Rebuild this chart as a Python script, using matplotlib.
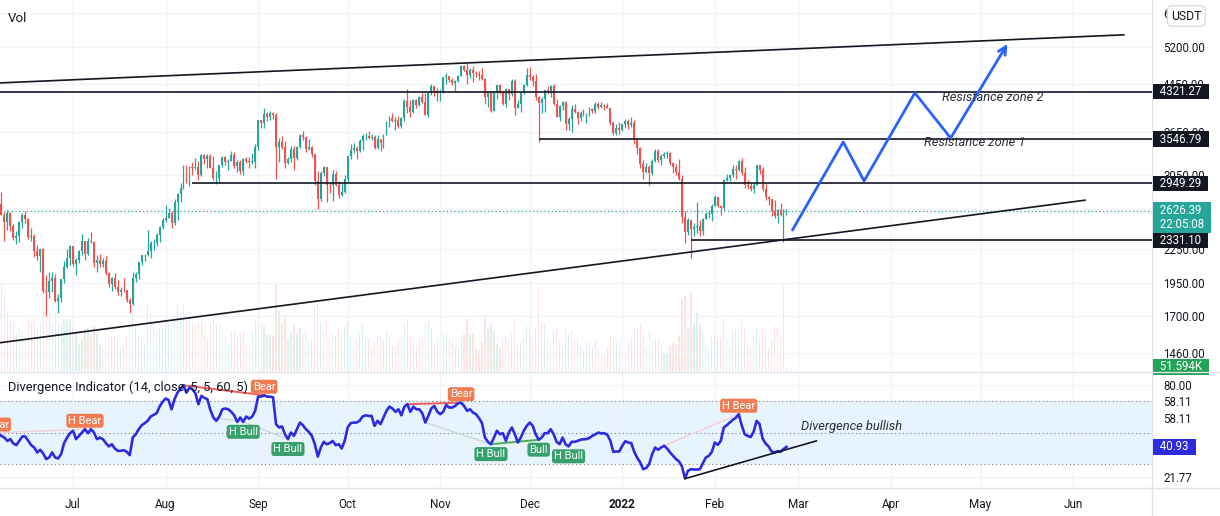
import numpy as np
import pandas as pd
import matplotlib
matplotlib.use('Agg')
import matplotlib.pyplot as plt
import matplotlib.dates as mdates
import matplotlib.transforms as mtransforms
from matplotlib.ticker import FixedLocator, NullLocator, FuncFormatter
from matplotlib.lines import Line2D

plt.rcParams['font.family'] = ['Roboto', 'DejaVu Sans']

# ---------------- data ----------------
start_date = '2021-06-04'
view_start = '2021-06-07'
first_open = 2855

close = [
    2690, 2630, 2712, 2591, 2517, 2609, 2472, 2354, 2372, 2508, 2587, 2549, 2365, 2373, 2232, 2178, 2244, 1889, 1875,
    1968, 1990, 1813, 1829, 1982, 2084, 2160, 2275,
    2113, 2150, 2226, 2322, 2198, 2324, 2316, 2117, 2146, 2111, 2140, 2036, 1941, 1995, 1918, 1880, 1898, 1893, 1820,
    1787, 1994, 2026, 2124, 2189, 2191, 2231, 2299, 2299, 2382, 2461, 2536,
    2556, 2608, 2506, 2725, 2827, 2890, 3157, 3012, 3163, 3141, 3164, 3049, 3322, 3266, 3310, 3149, 3012, 3018, 3182,
    3287, 3225, 3243, 3321, 3173, 3225, 3102, 3270, 3244, 3226, 3226, 3433,
    3834, 3790, 3940, 3887, 3952, 3927, 3429, 3497, 3427, 3211, 3266, 3408, 3285, 3429, 3611, 3570, 3397, 3433, 3328,
    2978, 2760, 3077, 3154, 2930, 2925, 3064, 2928, 2807, 2851, 3000,
    3307, 3390, 3418, 3380, 3517, 3585, 3591, 3560, 3577, 3418, 3545, 3493, 3604, 3788, 3865, 3829, 3845, 3748, 3877,
    4155, 4057, 3972, 4170, 4085, 4218, 4132, 3924, 4287, 4414, 4325, 4288,
    4321, 4588, 4601, 4535, 4474, 4518, 4612, 4807, 4731, 4634, 4722, 4667, 4646, 4625, 4557, 4217, 4289, 3991, 4303,
    4436, 4316, 4103, 4362, 4269, 4521, 4042, 4097, 4294, 4444, 4630,
    4586, 4511, 4220, 4119, 4198, 4346, 4310, 4431, 4111, 3895, 4074, 4134, 3782, 3862, 4020, 3961, 3876, 3958, 3923,
    3935, 4016, 3982, 4109, 4047, 4094, 4068, 4036, 3793, 3630, 3713, 3677,
    3769, 3829, 3762, 3795, 3539, 3420, 3196, 3091, 3157, 3083, 3239, 3372, 3249, 3310, 3330, 3350, 3212, 3164, 3096,
    3004, 2562, 2406, 2537, 2441, 2461, 2468, 2424, 2548, 2599, 2603, 2688,
    2792, 2680, 2660, 2990, 3016, 3054, 3137, 3125, 3242, 3075, 2928, 2918, 2880, 2929, 3180, 3124, 2885, 2785, 2764,
    2628, 2572, 2640, 2589, 2598, 2626.39,
]
high = [
    2860, 2815, 2745, 2845, 2621, 2640, 2615, 2495, 2420, 2520, 2610, 2630, 2560, 2455, 2395, 2280, 2250, 2255, 2015,
    2045, 2045, 2025, 1860, 1985, 2140, 2250, 2285,
    2275, 2160, 2240, 2390, 2325, 2350, 2410, 2325, 2190, 2200, 2165, 2180, 2045, 2000, 2030, 1975, 1915, 1990, 1897,
    1830, 2040, 2045, 2130, 2195, 2200, 2430, 2320, 2345, 2398, 2470, 2550,
    2700, 2665, 2630, 2760, 2840, 2950, 3180, 3185, 3175, 3230, 3275, 3235, 3330, 3330, 3330, 3330, 3300, 3100, 3190,
    3300, 3305, 3270, 3375, 3360, 3250, 3250, 3285, 3290, 3290, 3350, 3470,
    3840, 3840, 4030, 3970, 3980, 3970, 3950, 3560, 3590, 3520, 3290, 3440, 3440, 3440, 3620, 3675, 3590, 3545, 3450,
    3330, 3100, 3100, 3170, 3160, 2970, 3120, 3110, 2980, 2960, 3060,
    3320, 3470, 3490, 3440, 3545, 3620, 3640, 3670, 3625, 3610, 3600, 3550, 3615, 3825, 3900, 3960, 3880, 3900, 3890,
    4185, 4375, 4175, 4195, 4190, 4240, 4300, 4295, 4300, 4460, 4420, 4380,
    4375, 4600, 4665, 4600, 4570, 4535, 4630, 4820, 4835, 4868, 4775, 4810, 4705, 4700, 4770, 4570, 4320, 4340, 4330,
    4440, 4450, 4330, 4390, 4375, 4550, 4550, 4175, 4305, 4460, 4775,
    4780, 4630, 4645, 4235, 4230, 4355, 4420, 4440, 4460, 4185, 4080, 4150, 4150, 3880, 4090, 4100, 3980, 3990, 4020,
    3960, 4050, 4040, 4140, 4140, 4130, 4110, 4125, 4040, 3820, 3770, 3815,
    3770, 3850, 3850, 3880, 3845, 3550, 3425, 3245, 3210, 3180, 3260, 3410, 3410, 3335, 3365, 3375, 3360, 3215, 3200,
    3260, 3050, 2625, 2550, 2530, 2505, 2725, 2530, 2555, 2620, 2645, 2705,
    2815, 2790, 2700, 3000, 3070, 3065, 3190, 3180, 3255, 3285, 3160, 2990, 2950, 2965, 3190, 3190, 3160, 2945, 2800,
    2770, 2750, 2650, 2715, 2650, 2655,
]
low = [
    2590, 2560, 2615, 2583, 2321, 2432, 2420, 2336, 2290, 2310, 2450, 2505, 2340, 2320, 2175, 2145, 2045, 1870, 1700,
    1835, 1880, 1800, 1720, 1805, 1950, 2075, 2100,
    2090, 2020, 2115, 2190, 2150, 2190, 2300, 2080, 2045, 2080, 2080, 2020, 1920, 1885, 1900, 1855, 1850, 1875, 1800,
    1718, 1780, 1955, 1985, 2100, 2140, 2185, 2160, 2235, 2275, 2315, 2440,
    2510, 2550, 2450, 2480, 2530, 2725, 2880, 2950, 2920, 3050, 3135, 2990, 3040, 3200, 3150, 3140, 2990, 2940, 2960,
    3160, 3190, 3120, 3240, 3150, 3090, 3065, 3060, 3205, 3150, 3200, 3150,
    3387, 3720, 3720, 3830, 3840, 3850, 3000, 3230, 3410, 3150, 3200, 3220, 3120, 3250, 3415, 3530, 3355, 3390, 3290,
    2930, 2650, 2740, 3040, 2730, 2830, 2740, 2920, 2780, 2800, 2830,
    2970, 3260, 3345, 3270, 3355, 3390, 3530, 3545, 3530, 3400, 3400, 3375, 3420, 3600, 3725, 3800, 3680, 3720, 3720,
    3820, 3960, 3890, 3950, 4030, 4070, 4120, 3915, 3880, 4255, 4250, 4155,
    4150, 4300, 4460, 4490, 4440, 4330, 4500, 4605, 4710, 4460, 4575, 4505, 4600, 4540, 4525, 4105, 4060, 3965, 3985,
    4190, 4270, 4090, 4060, 4180, 4245, 3920, 4040, 3975, 4280, 4420,
    4530, 4425, 4180, 3500, 3950, 3975, 4280, 4220, 4080, 3880, 3830, 3995, 3680, 3685, 3645, 3950, 3780, 3820, 3900,
    3790, 3910, 3960, 3950, 4025, 4030, 4000, 4030, 3760, 3600, 3600, 3620,
    3670, 3720, 3700, 3730, 3475, 3340, 3150, 3005, 3075, 2930, 3060, 3225, 3225, 3185, 3280, 3280, 3180, 3080, 3050,
    2990, 2500, 2300, 2385, 2165, 2370, 2400, 2370, 2385, 2540, 2555, 2525,
    2680, 2670, 2590, 2645, 2980, 2980, 3030, 3000, 3110, 3050, 2900, 2880, 2855, 2830, 2925, 3070, 2855, 2755, 2700,
    2580, 2560, 2500, 2580, 2315, 2590,
]
volume_k = [
    800, 700, 500, 1050, 880, 700, 600, 560, 450, 500, 480, 430, 620, 560, 640, 520, 580, 900, 960, 720, 560, 700, 560,
    580, 620, 600, 620,
    530, 450, 320, 380, 500, 520, 430, 540, 450, 310, 260, 420, 450, 420, 420, 380, 280, 300, 420, 560, 700, 540, 430,
    380, 330, 820, 700, 560, 480, 520, 500,
    560, 560, 540, 690, 820, 720, 800, 640, 720, 560, 540, 560, 620, 450, 400, 560, 620, 580, 560, 520, 420, 340, 480,
    480, 400, 460, 480, 320, 340, 480, 620,
    820, 560, 540, 430, 430, 420, 1050, 720, 560, 640, 400, 460, 560, 440, 520, 440, 480, 360, 380, 760, 820, 580, 480,
    600, 400, 440, 420, 500, 460, 540,
    600, 420, 300, 380, 460, 560, 380, 380, 280, 360, 420, 430, 380, 480, 420, 300, 300, 380, 420, 560, 620, 440, 320,
    300, 380, 400, 560, 600, 500, 340, 380,
    400, 460, 450, 380, 360, 300, 260, 420, 450, 620, 440, 440, 260, 240, 350, 640, 500, 560, 480, 330, 280, 400, 420,
    360, 440, 640, 300, 360, 400, 540,
    500, 400, 500, 1000, 560, 580, 400, 340, 480, 500, 360, 260, 520, 440, 480, 380, 400, 300, 260, 340, 360, 280, 360,
    260, 180, 200, 280, 420, 380, 360, 340,
    220, 220, 340, 380, 520, 500, 560, 420, 280, 460, 360, 380, 380, 300, 220, 200, 300, 340, 320, 420, 860, 900, 520,
    940, 560, 700, 560, 480, 300, 260, 420,
    420, 380, 400, 620, 380, 280, 480, 500, 440, 620, 520, 300, 280, 420, 520, 400, 520, 400, 260, 360, 540, 520, 440,
    1020, 51.594,
]
rsi = [
    49.7, 47.5, 49.0,
    47.9, 46.8, 44.7, 45.8, 43.1, 42.0, 44.7, 47.5, 47.5, 44.7, 42.0, 40.5, 37.4, 39.1, 36.7, 33.2, 34.2, 37.4, 34.2,
    33.6, 36.3, 43.3, 46.8, 49.6,
    51.1, 45.8, 47.9, 50.0, 52.1, 49.6, 52.1, 50.0, 45.8, 46.8, 45.8, 43.3, 41.2, 42.6, 39.9, 38.4, 38.4, 38.8, 37.8,
    35.7, 46.8, 48.9, 52.1, 54.6, 55.9, 57.4, 60.1, 61.2, 62.2, 66.4, 69.4,
    71.5, 70.6, 64.7, 71.1, 75.3, 77.4, 79.9, 75.3, 78.4, 77.4, 74.8, 67.9, 73.2, 71.9, 71.1, 64.3, 59.5, 57.4, 60.1,
    64.7, 65.2, 64.7, 63.1, 60.9, 56.7, 59.5, 56.7, 60.1, 58.8, 60.1, 63.7,
    72.7, 72.7, 73.6, 72.7, 72.7, 72.3, 55.3, 53.2, 53.9, 48.9, 45.8, 50.0, 47.9, 52.1, 56.3, 54.6, 52.1, 50.4, 47.9,
    42.6, 34.8, 40.5, 44.1, 42.6, 43.3, 44.7, 42.0, 42.6, 39.9, 44.7,
    53.2, 55.9, 56.3, 56.3, 57.4, 60.1, 60.9, 60.5, 60.5, 54.2, 57.4, 55.3, 59.5, 63.7, 66.4, 65.2, 63.1, 64.7, 60.9,
    66.4, 67.9, 63.1, 66.4, 64.7, 64.7, 62.2, 56.3, 60.5, 65.2, 66.8, 63.3,
    61.6, 63.1, 67.5, 65.8, 65.8, 66.8, 68.5, 68.9, 66.8, 63.7, 64.7, 62.6, 61.6, 59.1, 55.9, 46.8, 44.1, 42.6, 46.8,
    51.1, 48.9, 49.6, 44.7, 50.0, 53.2, 48.9, 43.7, 46.8, 51.1, 54.2,
    56.3, 54.2, 48.9, 45.4, 46.8, 49.6, 49.6, 52.1, 48.9, 44.1, 42.6, 46.8, 42.6, 41.2, 44.1, 44.1, 44.7, 45.4, 45.8,
    45.8, 46.6, 47.9, 48.9, 50.0, 49.4, 49.6, 48.5, 44.7, 37.8, 38.0, 38.0,
    41.6, 44.5, 43.7, 43.3, 37.8, 34.0, 31.1, 26.8, 27.5, 30.0, 36.3, 40.5, 39.1, 40.5, 41.6, 39.9, 37.4, 35.3, 33.2,
    31.7, 28.5, 21.0, 25.8, 26.8, 26.6, 26.6, 26.8, 30.6, 34.2, 35.3, 37.8,
    43.7, 42.2, 44.7, 53.2, 54.6, 56.3, 58.0, 59.3, 61.6, 54.6, 48.9, 47.9, 47.1, 50.5, 57.4, 55.3, 46.2, 43.1, 41.2,
    38.0, 37.4, 38.2, 37.8, 39.5, 40.93,
]

price_ticks = [6000, 5200, 4450, 3650, 3050, 2650, 2250, 1950, 1700, 1460]
rsi_ticks = [80.0, 21.77]
rsi_extra_labels = [(68.7, '58.11'), (58.11, '58.11')]
rsi_levels = [70, 50, 30]
month_ticks = ['2021-07-01', '2021-08-01', '2021-09-01', '2021-10-01', '2021-11-01', '2021-12-01',
               '2022-01-01', '2022-02-01', '2022-03-01', '2022-04-01', '2022-05-01', '2022-06-01']
month_labels = ['Jul', 'Aug', 'Sep', 'Oct', 'Nov', 'Dec', '2022', 'Feb', 'Mar', 'Apr', 'May', 'Jun']

level_prices = [4321.27, 3546.79, 2949.29, 2331.10]
level_starts = [None, '2021-12-04', '2021-08-10', '2022-01-24']
upper_trend_dates = ['2021-06-06', '2022-06-18']
upper_trend_prices = [4478, 5470]
lower_trend_dates = ['2021-06-06', '2022-06-05']
lower_trend_prices = [1520, 2751]
proj_dates = ['2022-02-27', '2022-03-16', '2022-03-23', '2022-04-09', '2022-04-21', '2022-05-10']
proj_prices = [2430, 3504, 2980, 4296, 3562, 5265]
rsi_trend_dates = ['2022-01-22', '2022-03-07']
rsi_trend_values = [20.8, 44.7]

div_lines = [('2021-06-04', '2021-07-05', 'hbear'), ('2021-08-07', '2021-09-03', 'bear'),
             ('2021-08-17', '2021-08-27', 'hbull'), ('2021-08-27', '2021-09-11', 'hbull'),
             ('2021-10-21', '2021-11-08', 'bear'), ('2021-10-27', '2021-11-18', 'hbull'),
             ('2021-11-18', '2021-12-04', 'bull'), ('2022-01-15', '2022-02-09', 'hbear')]
div_labels = [('2021-06-04', 'H Bear', 'bear'), ('2021-07-05', 'H Bear', 'bear'), ('2021-09-03', 'Bear', 'bear'),
              ('2021-08-27', 'H Bull', 'bull'), ('2021-09-11', 'H Bull', 'bull'), ('2021-11-08', 'Bear', 'bear'),
              ('2021-11-18', 'H Bull', 'bull'), ('2021-12-04', 'Bull', 'bull'), ('2021-12-14', 'H Bull', 'bull'),
              ('2022-02-09', 'H Bear', 'bear')]

last_price = 2626.39
countdown = '22:05:08'
last_volume_text = '51.594K'

# ---------------- styling ----------------
UP, DOWN = '#26a69a', '#ef5350'
INK = '#131722'
GRID = '#f0f3fa'
BORDER = '#e0e3eb'
RSI_C = '#2c2cdc'
BEAR_C, BULL_C = '#f07c52', '#38a06c'
div_style = {'bear': ('#f25a5a', 1.4), 'bull': ('#4caf50', 1.4),
             'hbear': ('#f2cfd6', 1.0), 'hbull': ('#cdd9d4', 1.0)}

W, H = 1220, 516
fig = plt.figure(figsize=(W / 100, H / 100), dpi=100)
fig.patch.set_facecolor('white')


def rect(x0, y0, x1, y1):
    return [x0 / W, 1 - y1 / H, (x1 - x0) / W, (y1 - y0) / H]


PANE_R, MAIN_B, RSI_T, RSI_B = 1152, 371, 372, 488
ax_vol = fig.add_axes(rect(0, 0, PANE_R, MAIN_B), label='vol')
ax = fig.add_axes(rect(0, 0, PANE_R, MAIN_B), label='price')
ax_rsi = fig.add_axes(rect(0, RSI_T, PANE_R, RSI_B), label='rsi')
ax.patch.set_alpha(0)

d2n = lambda s: mdates.date2num(pd.Timestamp(s))
dates = pd.date_range(start_date, periods=len(close), freq='D')
x = mdates.date2num(dates)
o = np.array([first_open] + close[:-1], dtype=float)
c = np.array(close, dtype=float)
hi = np.maximum(np.array(high, dtype=float), np.maximum(o, c))
lo = np.minimum(np.array(low, dtype=float), np.minimum(o, c))
up = c >= o
col = np.where(up, UP, DOWN)
x_ref = d2n(view_start)
xlim = (x_ref - 0.47, x_ref + 385.45)
month_x = [d2n(m) for m in month_ticks]

# volume
ax_vol.bar(x, volume_k, width=0.4, color=col, alpha=0.17, linewidth=0)
ax_vol.set_xlim(xlim)
ax_vol.set_ylim(0, 4452)
ax_vol.axis('off')

# price pane
ax.set_yscale('log')
ax.set_xlim(xlim)
ax.set_ylim(1352.7, 6322)
ax.set_xticks(month_x)
ax.yaxis.set_major_locator(FixedLocator(price_ticks))
ax.yaxis.set_minor_locator(NullLocator())
ax.yaxis.set_major_formatter(FuncFormatter(lambda v, p: f'{v:.2f}'))
ax.yaxis.tick_right()
ax.tick_params(axis='y', length=0, pad=8, labelsize=8.3, labelcolor=INK)
ax.tick_params(axis='x', length=0, labelbottom=False)
ax.grid(True, color=GRID, linewidth=1)
ax.set_axisbelow(True)
for s in ax.spines.values():
    s.set_visible(False)
ax.spines['right'].set_visible(True)
ax.spines['right'].set_color(BORDER)

ax.vlines(x, lo, hi, colors=col, linewidth=0.9, zorder=3)
body_lo = np.minimum(o, c)
body_hi = np.maximum(np.maximum(o, c), body_lo * 1.002)
ax.bar(x, body_hi - body_lo, bottom=body_lo, width=0.64, color=col, linewidth=0, zorder=4)

ax.axhline(last_price, color=UP, lw=0.9, ls=(0, (1, 2)), zorder=2)
for lvl, st in zip(level_prices, level_starts):
    xs = xlim[0] if st is None else d2n(st)
    ax.hlines(lvl, xs, xlim[1], color=INK, lw=1.2, zorder=5)
ax.plot([d2n(d) for d in upper_trend_dates], upper_trend_prices, color=INK, lw=1.2, zorder=5)
ax.plot([d2n(d) for d in lower_trend_dates], lower_trend_prices, color=INK, lw=1.2, zorder=5)

px = [d2n(d) for d in proj_dates]
ax.plot(px[:-1], proj_prices[:-1], color='#2962ff', lw=2, zorder=6, solid_capstyle='round')
ax.annotate('', xy=(px[-1], proj_prices[-1]), xytext=(px[-2], proj_prices[-2]),
            arrowprops=dict(arrowstyle='->', color='#2962ff', lw=2, shrinkA=0, shrinkB=0, mutation_scale=14),
            zorder=6)
ax.text(d2n('2022-04-18'), 4207, 'Resistance zone 2', fontsize=9.3, style='italic', color='#2a2e39',
        va='center', ha='left', zorder=7)
ax.text(d2n('2022-04-12'), 3492, 'Resistance zone 1', fontsize=9.3, style='italic', color='#2a2e39',
        va='center', ha='left', zorder=7)

ax.text(8 / PANE_R, 1 - 18 / MAIN_B, 'Vol', transform=ax.transAxes, fontsize=9.5, color=INK, va='center')


def side_label(axis, y, text, fc, dy=0, va='center', fs=8.3):
    tr = mtransforms.blended_transform_factory(axis.transAxes, axis.transData)
    axis.annotate(text, xy=(1.0, y), xycoords=tr, xytext=(1.5, dy), textcoords='offset points',
                  ha='left', va=va, fontsize=fs, color='white', linespacing=1.15,
                  bbox=dict(boxstyle='square,pad=0.12', fc=fc, ec='none'), zorder=20, annotation_clip=False)


for lvl in level_prices:
    side_label(ax, lvl, f'  {lvl:.2f}  ', INK)
side_label(ax, last_price, f'  {last_price:.2f}  \n  {countdown}  ', UP, dy=5.5, va='top')
side_label(ax_vol, volume_k[-1], f'  {last_volume_text}  ', '#22a356')
ax.text(1 + 19 / PANE_R, 1 - 16 / MAIN_B, 'USDT', transform=ax.transAxes, fontsize=8.8, color=INK,
        ha='left', va='center', zorder=21,
        bbox=dict(boxstyle='round,pad=0.3,rounding_size=0.35', fc='white', ec='#d1d4dc', lw=0.8))

# RSI pane
ax_rsi.set_xlim(xlim)
ax_rsi.set_ylim(14.9, 88.3)
ax_rsi.axhspan(rsi_levels[2], rsi_levels[0], color='#2196f3', alpha=0.1, lw=0, zorder=0)
for lv in rsi_levels:
    ax_rsi.axhline(lv, color='#787b86', lw=0.8, ls=(0, (1, 2.5)), zorder=1)
ax_rsi.set_xticks(month_x)
ax_rsi.set_xticklabels(month_labels)
ax_rsi.set_yticks(rsi_ticks)
ax_rsi.yaxis.set_major_formatter(FuncFormatter(lambda v, p: f'{v:.2f}'))
ax_rsi.yaxis.tick_right()
ax_rsi.tick_params(axis='y', length=0, pad=8, labelsize=8.3, labelcolor=INK)
ax_rsi.tick_params(axis='x', length=0, pad=7, labelsize=8.5, labelcolor=INK)
ax_rsi.get_xticklabels()[6].set_fontweight('bold')
ax_rsi.grid(True, color=GRID, linewidth=1)
ax_rsi.set_axisbelow(True)
for s in ax_rsi.spines.values():
    s.set_visible(False)
ax_rsi.spines['right'].set_visible(True)
ax_rsi.spines['right'].set_color(BORDER)
for val, txt in rsi_extra_labels:
    tr = mtransforms.blended_transform_factory(ax_rsi.transAxes, ax_rsi.transData)
    ax_rsi.annotate(txt, xy=(1.0, val), xycoords=tr, xytext=(8, 0), textcoords='offset points',
                    ha='left', va='center', fontsize=8.3, color=INK, annotation_clip=False)

rsi_s = pd.Series(rsi, index=dates)
for d1, d2, kind in div_lines:
    cc, lw = div_style[kind]
    ax_rsi.plot([d2n(d1), d2n(d2)], [rsi_s[d1], rsi_s[d2]], color=cc, lw=lw, zorder=2)
ax_rsi.plot(x, rsi, color=RSI_C, lw=1.9, zorder=4)
ax_rsi.plot([d2n(d) for d in rsi_trend_dates], rsi_trend_values, color=INK, lw=1.2, zorder=5)
for d, txt, kind in div_labels:
    if kind == 'bear':
        off, va, fc = (0, 2.5), 'bottom', BEAR_C
    else:
        off, va, fc = (0, -3.5), 'top', BULL_C
    ax_rsi.annotate(txt, xy=(d2n(d), rsi_s[d]), xytext=off, textcoords='offset points', ha='center', va=va,
                    fontsize=8, color='white', zorder=8, annotation_clip=False,
                    bbox=dict(boxstyle='round,pad=0.18,rounding_size=0.25', fc=fc, ec='none'))
ax_rsi.text(d2n('2022-03-02'), 54.1, 'Divergence bullish', fontsize=9.3, style='italic', color='#2a2e39',
            va='center', ha='left', zorder=7)
ax_rsi.text(8 / PANE_R, 1 - 15 / (RSI_B - RSI_T), 'Divergence Indicator (14, close, 5, 5, 60, 5)',
            transform=ax_rsi.transAxes, fontsize=9.3, color=INK, va='center', zorder=9)
side_label(ax_rsi, rsi[-1], f'  {rsi[-1]:.2f}  ', RSI_C)

# frame lines
for (x0, y0, x1, y1) in [(0, 371.5, W, 371.5), (0, RSI_B, W, RSI_B), (PANE_R, RSI_B, PANE_R, H)]:
    fig.add_artist(Line2D([x0 / W, x1 / W], [1 - y0 / H, 1 - y1 / H], transform=fig.transFigure,
                          color=BORDER, lw=1))

fig.savefig('out.png', dpi=100, facecolor='white')
